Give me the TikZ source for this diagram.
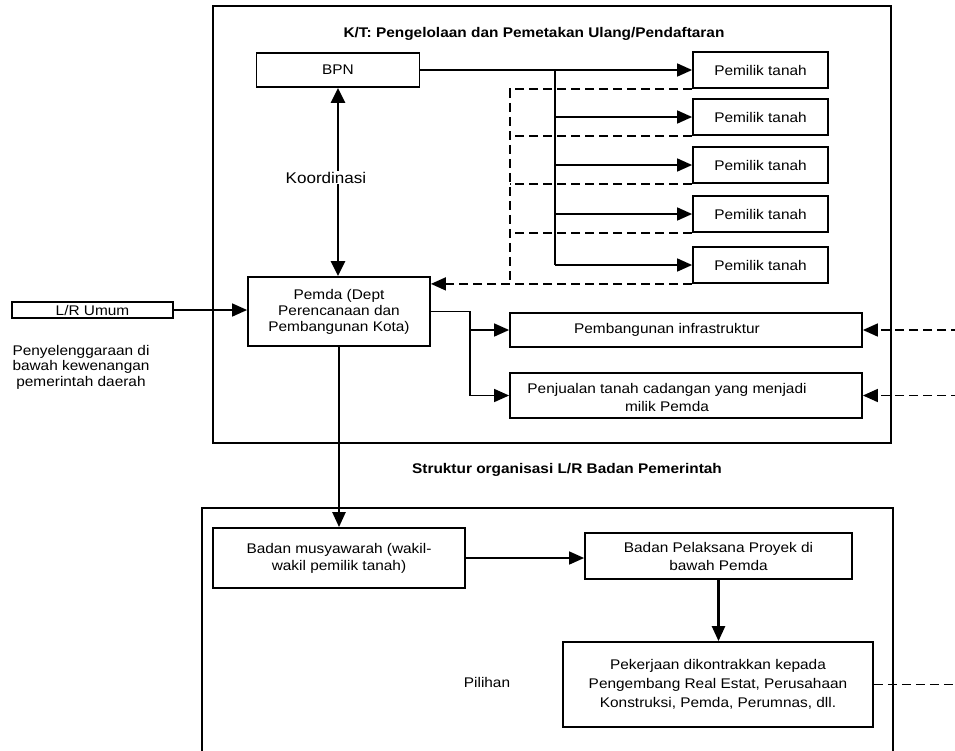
\documentclass[tikz,border=0pt]{standalone}
\usepackage{fontspec}
\setmainfont{Liberation Sans}[FakeStretch=1.1]
\usetikzlibrary{arrows.meta}
\begin{document}
\begin{tikzpicture}[x=1pt,y=-1pt,
  box/.style={draw, line width=1.8pt, rectangle, inner sep=0pt, align=center, font=\fontsize{14}{17}\selectfont},
  frame/.style={draw, line width=2pt},
  conn/.style={line width=1.6pt},
  tip/.style={-{Triangle[length=15pt,width=13pt]}},
  arr/.style={conn, tip},
  dsh/.style={line width=1.6pt, dash pattern=on 9pt off 5pt},
  txt/.style={font=\fontsize{14}{15.5}\selectfont, align=center, inner sep=0pt},
  ttl/.style={font=\bfseries\fontsize{14}{17}\selectfont, inner sep=0pt, anchor=base},
]
\clip (0,0) rectangle (955,750);
\useasboundingbox (0,0) rectangle (955,750);

% frames
\draw[frame] (213,6) rectangle (891,443);
\draw[frame] (202,508) rectangle (893,770);

% titles and free texts
\node[ttl] (t1) at (534,37) {K/T: Pengelolaan dan Pemetakan Ulang/Pendaftaran};
\node[ttl, font=\bfseries\fontsize{14}{18}\selectfont] (t2) at (567,473) {Struktur organisasi L/R Badan Pemerintah};
\node[txt] (peny) at (81,367) {Penyelenggaraan di\\bawah kewenangan\\pemerintah daerah};
\node[txt, anchor=base] (pilihan) at (487,687) {Pilihan};

% boxes
\node[box, minimum width=163, minimum height=34] (bpn) at (338,70) {BPN};
\foreach \i/\y in {1/70,2/117,3/165,4/214,5/265}
  \node[box, minimum width=135, minimum height=36] (p\i) at (760.5,\y) {Pemilik tanah};
\node[box, minimum width=182, minimum height=69, font=\fontsize{14}{16}\selectfont] (pemda) at (339,311.5) {Pemda (Dept\\Perencanaan dan\\Pembangunan Kota)};
\node[box, minimum width=161, minimum height=16] (lr) at (92.5,310) {L/R Umum};
\node[box, minimum width=352, minimum height=34] (infra) at (686,330) {};
\node[txt] (infratext) at (667,330) {Pembangunan infrastruktur};
\node[box, minimum width=352, minimum height=45] (penj) at (686,395.5) {};
\node[txt, font=\fontsize{14}{18}\selectfont] (penjtext) at (667,397) {Penjualan tanah cadangan yang menjadi\\milik Pemda};
\node[box, minimum width=252, minimum height=60] (badan) at (339,558) {Badan musyawarah (wakil-\\wakil pemilik tanah)};
\node[box, minimum width=267, minimum height=46, font=\fontsize{14}{18}\selectfont] (pelaksana) at (718.5,556) {Badan Pelaksana Proyek di\\bawah Pemda};
\node[box, minimum width=310, minimum height=85, font=\fontsize{14}{19}\selectfont] (pekerjaan) at (718,684.5) {Pekerjaan dikontrakkan kepada\\Pengembang Real Estat, Perusahaan\\Konstruksi, Pemda, Perumnas, dll.};

% koordinasi
\draw[line width=2.4pt, {Triangle[length=15pt,width=14pt]}-{Triangle[length=15pt,width=14pt]}] (bpn.south) -- (bpn.south |- pemda.north);
\node[fill=white, font=\fontsize{15.5}{18}\selectfont, inner sep=1pt, anchor=base] (koord) at (326,183) {Koordinasi};

% BPN to land owners
\coordinate (bus) at (555,0);
\draw[arr] (bpn.east) -- (p1.west);
\draw[line width=2.8pt] (bus |- p1.west) -- (bus |- p5.west);
\foreach \i in {2,...,5} \draw[arr] (bus |- p\i.west) -- (p\i.west);

% dashed returns
\coordinate (dx) at (510,0);
\draw[dsh] (p1.south west) -- (p1.south west -| dx) -- (p5.south west -| dx);
\foreach \i in {2,3,4} \draw[dsh] (p\i.south west) -- (p\i.south west -| dx);
\draw[dsh, tip] (p5.south west) -- (p5.south west -| pemda.east);

% L/R Umum to Pemda
\draw[arr] (lr.east) -- (lr.east -| pemda.west);

% Pemda to infrastructure
\coordinate (jx) at (470,0);
\draw[conn] (pemda.east) -- (pemda.east -| jx) -- (jx |- penj.west);
\draw[arr] (jx |- infra.west) -- (infra.west);
\draw[arr] (jx |- penj.west) -- (penj.west);

% dashed from right
\coordinate (rx) at (960,0);
\draw[dsh, tip] (rx |- infra.east) -- (infra.east);
\draw[dsh, tip] (rx |- penj.east) -- (penj.east);

% lower structure
\draw[arr, line width=2.4pt] (pemda.south) -- (badan.north);
\draw[arr] (badan.east) -- (badan.east -| pelaksana.west);
\draw[arr, line width=2.4pt] (pelaksana.south) -- (pelaksana.south |- pekerjaan.north);
\draw[dsh] (pekerjaan.east) -- (rx |- pekerjaan.east);
\end{tikzpicture}
\end{document}
